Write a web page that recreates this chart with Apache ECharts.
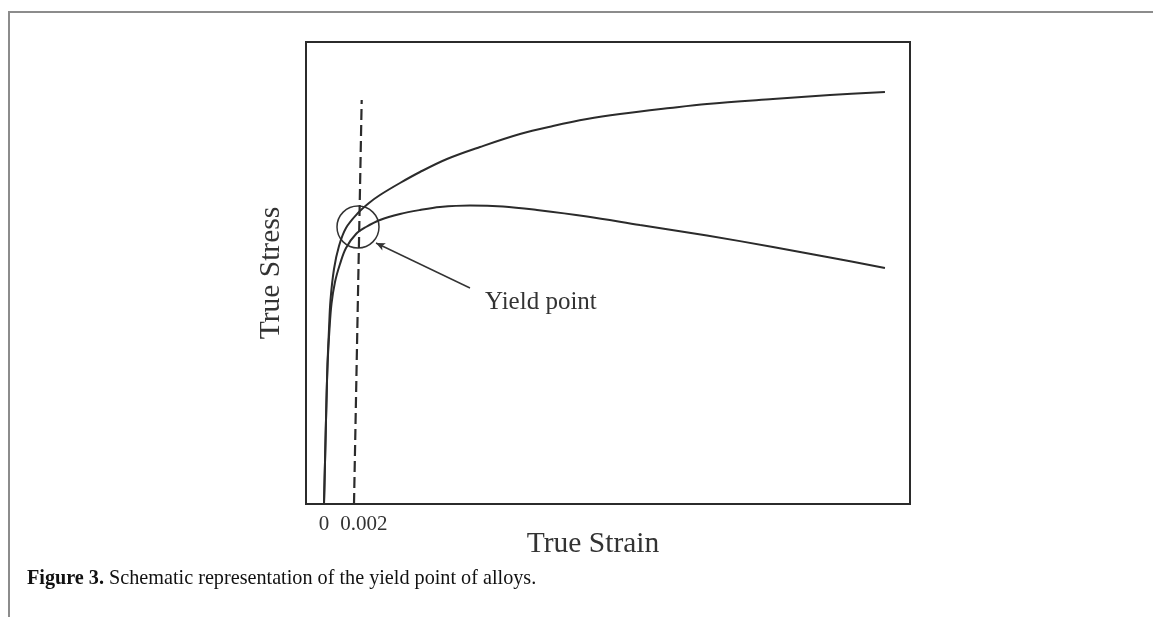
<!DOCTYPE html>
<html>
<head>
<meta charset="utf-8">
<script src="https://cdn.jsdelivr.net/npm/echarts@6/dist/echarts.min.js"></script>
<style>
html,body{margin:0;padding:0;background:#fff;}
#chart{width:1153px;height:617px;}
</style>
</head>
<body>
<div id="chart"></div>
<script>
// True strain (x) and true stress (arbitrary units, y)
var upperStrain = [0, 0.00008, 0.00016, 0.000233, 0.000333, 0.000433, 0.000667, 0.001, 0.001467, 0.002267, 0.003, 0.003733, 0.005067, 0.0064, 0.0082, 0.0104, 0.013067, 0.015267, 0.017533, 0.019733, 0.023067, 0.025533, 0.029933, 0.033733, 0.0374];
var upperStress = [0, 50, 100, 140, 175, 204, 235, 258, 276, 291, 301, 309, 321, 332, 345, 357, 370, 378, 385, 390, 396, 400, 405, 409, 412];
var lowerStrain = [0, 0.00008, 0.00016, 0.00024, 0.000367, 0.0005, 0.000733, 0.001067, 0.001467, 0.002133, 0.0028, 0.003733, 0.005067, 0.0064, 0.007733, 0.009733, 0.011933, 0.0142, 0.017533, 0.021067, 0.025533, 0.029933, 0.033733, 0.0374];
var lowerStress = [0, 50, 100, 140, 175, 200, 222, 240, 256, 270, 277, 284, 290, 294, 297, 298.5, 297.5, 294, 287.5, 279, 268.5, 257, 246.5, 236];
// 0.2% offset line
var offsetStrain = [0.002, 0.002513];
var offsetStress = [0, 404];
// yield point marker, arrow and its label
var yieldCircle = [0.002267, 277];
var arrowTail = [0.009733, 216];
var arrowHead = [0.003467, 261];
var yieldLabelPos = [0.010733, 202];
var xTickValues = [0, 0.002];
var xTickLabels = ['0', '0.002'];
var xName = 'True Strain';
var yName = 'True Stress';
var labelText = 'Yield point';
var captionBold = 'Figure 3.';
var captionText = ' Schematic representation of the yield point of alloys.';

function zip(a, b) { return a.map(function (v, i) { return [v, b[i]]; }); }

var serif = 'Liberation Serif';
var ink = '#2b2b2b';

var chart = echarts.init(document.getElementById('chart'), null, {renderer: 'canvas'});
chart.setOption({
  animation: false,
  backgroundColor: '#ffffff',
  grid: {left: 306, top: 42, right: 243, bottom: 113, show: true, borderColor: ink, borderWidth: 2, backgroundColor: 'transparent'},
  xAxis: {
    type: 'value', min: -0.0012, max: 0.03907,
    splitLine: {show: false},
    axisLine: {show: false},
    axisTick: {show: false},
    axisLabel: {
      customValues: xTickValues,
      margin: 10,
      fontFamily: serif, fontSize: 21, color: '#333',
      formatter: function (v) {
        var i = xTickValues.indexOf(v);
        var t = i >= 0 ? xTickLabels[i] : String(v);
        return i === 1 ? '{r|' + t + '}' : t;
      },
      rich: {r: {fontFamily: serif, fontSize: 21, color: '#333', padding: [0, 0, 0, 20]}}
    },
    name: xName, nameLocation: 'middle', nameGap: 25, nameMoveOverlap: false,
    nameTextStyle: {fontFamily: serif, fontSize: 29.5, color: '#333', padding: [0, 30, 0, 0]}
  },
  yAxis: {
    type: 'value', min: 0, max: 462,
    splitLine: {show: false},
    axisLine: {show: false},
    axisTick: {show: false},
    axisLabel: {show: false},
    name: yName, nameLocation: 'middle', nameGap: 20,
    nameTextStyle: {fontFamily: serif, fontSize: 29.5, color: '#333'}
  },
  series: [
    {type: 'line', data: zip(upperStrain, upperStress), showSymbol: false, smooth: 0.35,
     lineStyle: {color: ink, width: 2}, silent: true},
    {type: 'line', data: zip(lowerStrain, lowerStress), showSymbol: false, smooth: 0.35,
     lineStyle: {color: ink, width: 2}, silent: true},
    {type: 'line', data: zip(offsetStrain, offsetStress), showSymbol: false,
     lineStyle: {color: ink, width: 2.2, type: [11, 5]}, silent: true},
    {type: 'scatter', data: [yieldCircle], symbol: 'circle', symbolSize: 42,
     itemStyle: {color: 'rgba(0,0,0,0)', borderColor: '#333', borderWidth: 1.5, opacity: 1}, silent: true,
     markLine: {
       silent: true, symbol: ['none', 'arrow'], symbolSize: [6, 9],
       label: {show: false},
       lineStyle: {color: '#333', width: 1.4, type: 'solid', opacity: 1},
       data: [[{coord: arrowTail}, {coord: arrowHead}]]
     }},
    {type: 'scatter', data: [yieldLabelPos], symbolSize: 0, silent: true,
     itemStyle: {opacity: 1},
     label: {show: true, position: 'right', distance: 0, formatter: labelText,
             fontFamily: serif, fontSize: 25, color: '#333', opacity: 1}}
  ],
  graphic: [
    {type: 'polyline', shape: {points: [[9, 617], [9, 12], [1153, 12]]},
     style: {stroke: '#8c8c8c', lineWidth: 2, fill: null}, silent: true},
    {type: 'text', left: 27, top: 569, silent: true,
     style: {
       text: '{b|' + captionBold + '}{n|' + captionText + '}',
       rich: {
         b: {fontFamily: serif, fontWeight: 'bold', fontSize: 20.2, fill: '#111'},
         n: {fontFamily: serif, fontSize: 20.2, fill: '#111'}
       }
     }}
  ]
});
</script>
</body>
</html>
